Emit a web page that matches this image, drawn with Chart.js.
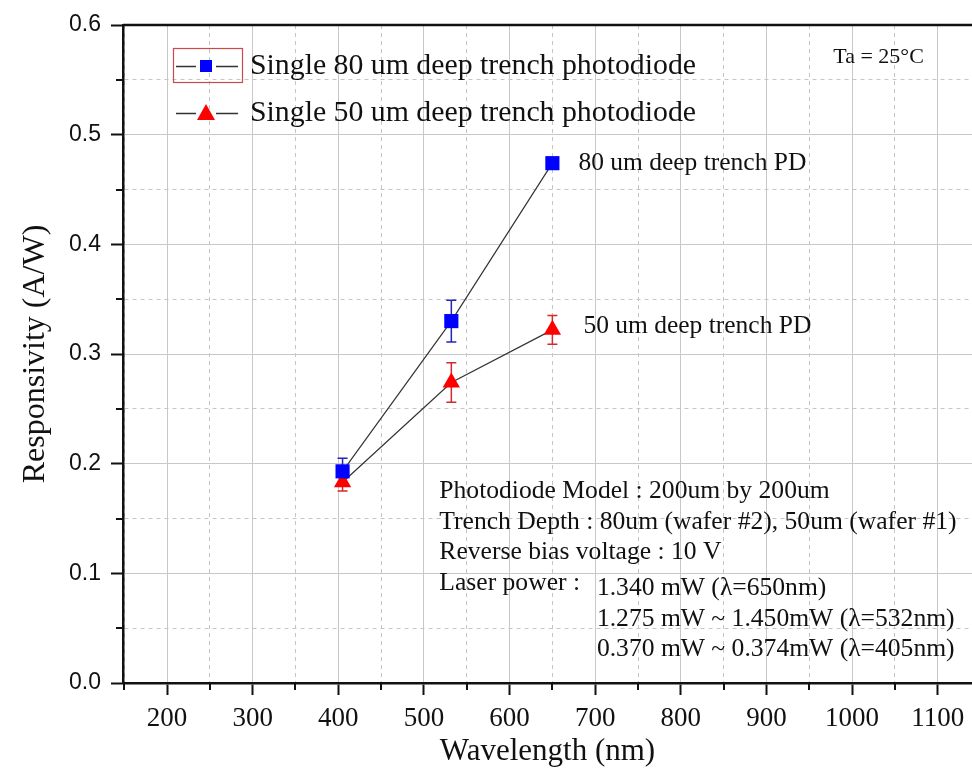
<!DOCTYPE html>
<html>
<head>
<meta charset="utf-8">
<script src="https://cdn.jsdelivr.net/npm/chart.js@4.4.1/dist/chart.umd.min.js"></script>
<style>
  html, body { margin: 0; padding: 0; background: #ffffff; }
  #wrap { width: 972px; height: 778px; position: relative; }
</style>
</head>
<body>
<div id="wrap"><canvas id="chart" width="972" height="778"></canvas></div>
<script>
// Wavelengths (nm) of the three lasers
const wavelengths = [405, 532, 650];
// Responsivity (A/W) and error (±) for each trench depth
const resp80 = [0.193, 0.330, 0.474];
const err80 = [0.012, 0.019, 0.003];
const resp50 = [0.183, 0.274, 0.322];
const err50 = [0.008, 0.018, 0.013];

const seriesNames = [
  'Single 80 um deep trench photodiode',
  'Single 50 um deep trench photodiode'
];
const pointLabels = ['80 um deep trench PD', '50 um deep trench PD'];
const infoLines = [
  'Photodiode Model : 200um by 200um',
  'Trench Depth : 80um (wafer #2), 50um (wafer #1)',
  'Reverse bias voltage : 10 V',
  'Laser power :'
];
const powerLines = [
  '1.340 mW (\u03bb=650nm)',
  '1.275 mW ~ 1.450mW (\u03bb=532nm)',
  '0.370 mW ~ 0.374mW (\u03bb=405nm)'
];
const tempLabel = 'Ta = 25\u00b0C';

const X_MIN = 148.6, X_MAX = 1140;
const SERIF = '"Liberation Serif", "Times New Roman", serif';
const SANS = '"Liberation Sans", Arial, sans-serif';
const INK = '#111111';
const BLUE = '#0000ff';
const RED = '#ff0000';

const isMajorX = v => Math.round(v) % 100 === 0;
const isMajorY = v => Math.round(v * 100) % 10 === 0;

function toPoints(xs, ys) { return xs.map((x, i) => ({ x: x, y: ys[i] })); }

// Error bars, drawn under the markers
const errorBars = {
  id: 'errorBars',
  beforeDatasetsDraw(chart) {
    const { ctx, scales: { x, y } } = chart;
    const sets = [
      { vals: resp80, errs: err80, color: '#2424b8' },
      { vals: resp50, errs: err50, color: '#d42a2a' }
    ];
    ctx.save();
    ctx.lineWidth = 1.5;
    sets.forEach(s => {
      ctx.strokeStyle = s.color;
      wavelengths.forEach((w, i) => {
        const px = x.getPixelForValue(w);
        const top = y.getPixelForValue(s.vals[i] + s.errs[i]);
        const bot = y.getPixelForValue(s.vals[i] - s.errs[i]);
        ctx.beginPath();
        ctx.moveTo(px, top); ctx.lineTo(px, bot);
        ctx.moveTo(px - 5, top); ctx.lineTo(px + 5, top);
        ctx.moveTo(px - 5, bot); ctx.lineTo(px + 5, bot);
        ctx.stroke();
      });
    });
    ctx.restore();
  }
};

// Frame top line, short minor tick marks, legend and notes
const decorations = {
  id: 'decorations',
  afterDraw(chart) {
    const { ctx, chartArea: ca, scales: { x, y } } = chart;
    ctx.save();

    // top frame line
    ctx.strokeStyle = INK;
    ctx.lineWidth = 2.5;
    ctx.beginPath();
    ctx.moveTo(ca.left, ca.top); ctx.lineTo(ca.right, ca.top);
    ctx.stroke();

    // minor tick marks
    ctx.lineWidth = 2;
    ctx.beginPath();
    x.ticks.forEach(t => {
      if (isMajorX(t.value)) return;
      const px = Math.round(x.getPixelForValue(t.value));
      ctx.moveTo(px, ca.bottom); ctx.lineTo(px, ca.bottom + 7);
    });
    y.ticks.forEach(t => {
      if (isMajorY(t.value)) return;
      const py = Math.round(y.getPixelForValue(t.value));
      ctx.moveTo(ca.left, py); ctx.lineTo(ca.left - 7, py);
    });
    ctx.stroke();

    // legend
    const lx = ca.left + 50;
    const rows = [ca.top + 41, ca.top + 88];
    ctx.strokeStyle = '#c84a4a';
    ctx.lineWidth = 1.2;
    ctx.strokeRect(lx + 0.5, rows[0] - 17.5, 69, 34);
    ctx.strokeStyle = '#333333';
    ctx.lineWidth = 1.3;
    rows.forEach(ry => {
      ctx.beginPath();
      ctx.moveTo(lx + 3, ry + 0.5); ctx.lineTo(lx + 23, ry + 0.5);
      ctx.moveTo(lx + 43, ry + 0.5); ctx.lineTo(lx + 65, ry + 0.5);
      ctx.stroke();
    });
    ctx.fillStyle = BLUE;
    ctx.fillRect(lx + 27, rows[0] - 6, 12, 12);
    ctx.fillStyle = RED;
    ctx.beginPath();
    ctx.moveTo(lx + 33, rows[1] - 9);
    ctx.lineTo(lx + 42, rows[1] + 7);
    ctx.lineTo(lx + 24, rows[1] + 7);
    ctx.closePath();
    ctx.fill();

    ctx.fillStyle = INK;
    ctx.textBaseline = 'middle';
    ctx.textAlign = 'left';
    ctx.font = '29.8px ' + SERIF;
    seriesNames.forEach((n, i) => ctx.fillText(n, lx + 77, rows[i]));

    // labels beside the last points
    ctx.font = '25.5px ' + SERIF;
    const last = wavelengths.length - 1;
    ctx.fillText(pointLabels[0], x.getPixelForValue(wavelengths[last]) + 26,
      y.getPixelForValue(resp80[last]));
    ctx.fillText(pointLabels[1], x.getPixelForValue(wavelengths[last]) + 31,
      y.getPixelForValue(resp50[last]) - 4);

    // measurement conditions
    ctx.font = '25.6px ' + SERIF;
    const bx = x.getPixelForValue(518);
    const by = y.getPixelForValue(0.175);
    const lh = 30.7;
    infoLines.forEach((t, i) => ctx.fillText(t, bx, by + i * lh));
    const px = x.getPixelForValue(702);
    powerLines.forEach((t, i) => ctx.fillText(t, px, by + 3 * lh + 5 + i * lh));

    // ambient temperature
    ctx.font = '22px ' + SERIF;
    ctx.fillText(tempLabel, x.getPixelForValue(978), y.getPixelForValue(0.571));

    ctx.restore();
  }
};

function gridStyle(isMajor) {
  return {
    color: c => (c.tick && !isMajor(c.tick.value)) ? '#c4c4c4' : '#c8c8c8',
    lineWidth: 1,
    drawTicks: true,
    tickLength: 12,
    tickWidth: 2,
    tickColor: c => (c.tick && isMajor(c.tick.value)) ? INK : 'rgba(0,0,0,0)'
  };
}
function borderStyle(isMajor) {
  return {
    display: true,
    color: INK,
    width: 2.5,
    dash: c => (c.tick && !isMajor(c.tick.value)) ? [4, 4] : []
  };
}

new Chart(document.getElementById('chart'), {
  type: 'line',
  data: {
    datasets: [
      {
        label: seriesNames[0],
        data: toPoints(wavelengths, resp80),
        borderColor: '#333333',
        borderWidth: 1.2,
        pointStyle: 'rect',
        pointRadius: 10,
        pointBackgroundColor: BLUE,
        pointBorderColor: BLUE,
        pointBorderWidth: 0,
        tension: 0
      },
      {
        label: seriesNames[1],
        data: toPoints(wavelengths, resp50),
        borderColor: '#333333',
        borderWidth: 1.2,
        pointStyle: 'triangle',
        pointRadius: 10,
        pointBackgroundColor: RED,
        pointBorderColor: RED,
        pointBorderWidth: 0,
        tension: 0
      }
    ]
  },
  options: {
    responsive: false,
    animation: false,
    devicePixelRatio: 1,
    layout: { autoPadding: false, padding: { top: 25, right: 0, bottom: 0, left: 0 } },
    plugins: {
      legend: { display: false },
      tooltip: { enabled: false }
    },
    scales: {
      x: {
        type: 'linear',
        min: X_MIN,
        max: X_MAX,
        afterFit: s => { s.height = 95; s.paddingLeft = 0; s.paddingRight = 0; },
        ticks: {
          stepSize: 50,
          includeBounds: false,
          autoSkip: false,
          maxRotation: 0,
          padding: 8,
          color: INK,
          font: { family: SERIF, size: 27 },
          callback: v => isMajorX(v) ? String(Math.round(v)) : ''
        },
        grid: gridStyle(isMajorX),
        border: borderStyle(isMajorX),
        title: {
          display: true,
          text: 'Wavelength (nm)',
          color: INK,
          font: { family: SERIF, size: 31 },
          padding: { top: 0, bottom: 8 }
        }
      },
      y: {
        type: 'linear',
        min: 0,
        max: 0.6,
        afterFit: s => { s.width = 123; s.paddingTop = 0; s.paddingBottom = 0; },
        ticks: {
          stepSize: 0.05,
          includeBounds: false,
          autoSkip: false,
          padding: 10,
          color: INK,
          font: { family: SANS, size: 23 },
          callback: v => isMajorY(v) ? v.toFixed(1) : ''
        },
        grid: gridStyle(isMajorY),
        border: borderStyle(isMajorY),
        title: {
          display: true,
          text: 'Responsivity (A/W)',
          color: INK,
          font: { family: SERIF, size: 32 },
          padding: { top: 16, bottom: 0 }
        }
      }
    }
  },
  plugins: [errorBars, decorations]
});
</script>
</body>
</html>
